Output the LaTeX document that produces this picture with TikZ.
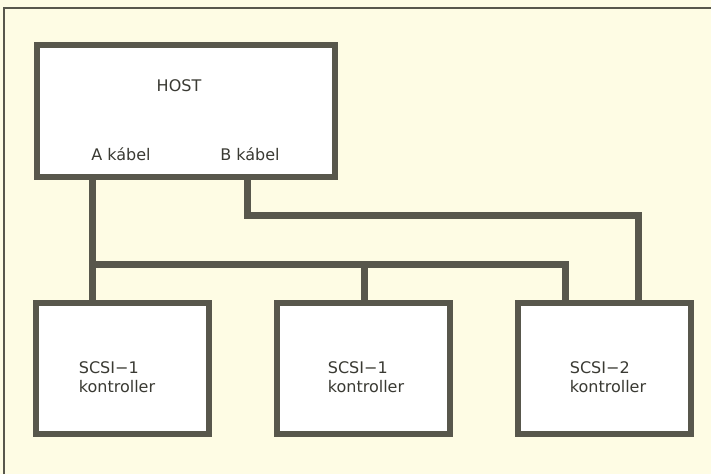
\documentclass[tikz,border=0pt]{standalone}
\usepackage{fontspec}
\setmainfont{DejaVu Sans}
\usepackage{tikz}
\usetikzlibrary{positioning, calc}

\definecolor{paper}{HTML}{FEFCE4}
\definecolor{ink}{HTML}{58574C}
\definecolor{txt}{HTML}{3A3A33}

\tikzset{
    unitbox/.style={draw=ink, line width=6pt, fill=white, inner sep=0pt},
    lbl/.style={text=txt, font=\fontsize{16}{19}\selectfont, inner sep=0pt},
    cable/.style={draw=ink, line width=7pt}
}

\begin{document}
\begin{tikzpicture}[x=1pt, y=-1pt]
    % Paper and frame
    \fill[paper] (0,0) rectangle (711,474);
    \useasboundingbox (0,0) rectangle (711,474);
    \draw[ink, line width=1.2pt] (4,474) -- (4,8) -- (711,8);

    % Host
    \node[unitbox, minimum width=298pt, minimum height=132pt] (host) at (186,111) {};
    \node[lbl] (hostname) at (179,86) {HOST};
    \node[lbl] (kabelA) at (121,154) {A kábel};
    \node[lbl] (kabelB) at (250,154) {B kábel};

    % Controllers
    \foreach \x/\n in {122.5/1, 363.5/2, 604.5/3} {
        \node[unitbox, minimum width=173pt, minimum height=131pt] (ctrl\n) at (\x,368.5) {};
    }
    \node[lbl, align=left] (type1) at (117,377) {SCSI−1\\kontroller};
    \node[lbl, align=left] (type2) at (366,377) {SCSI−1\\kontroller};
    \node[lbl, align=left] (type3) at (608,377) {SCSI−2\\kontroller};

    % A cable and bus
    \coordinate (busL) at (92,264);
    \coordinate (busM) at (364,264);
    \coordinate (busR) at (565,264);
    \draw[cable] (host.south -| busL) -- (ctrl1.north -| busL);
    \draw[cable, line join=miter] (busL) -- (busR) -- (ctrl3.north -| busR);
    \draw[cable] (busM) -- (ctrl2.north -| busM);

    % B cable
    \coordinate (bendB) at (247,215);
    \coordinate (bendR) at (638,215);
    \draw[cable, line join=miter] (host.south -| bendB) -- (bendB) -- (bendR) -- (ctrl3.north -| bendR);
\end{tikzpicture}
\end{document}
